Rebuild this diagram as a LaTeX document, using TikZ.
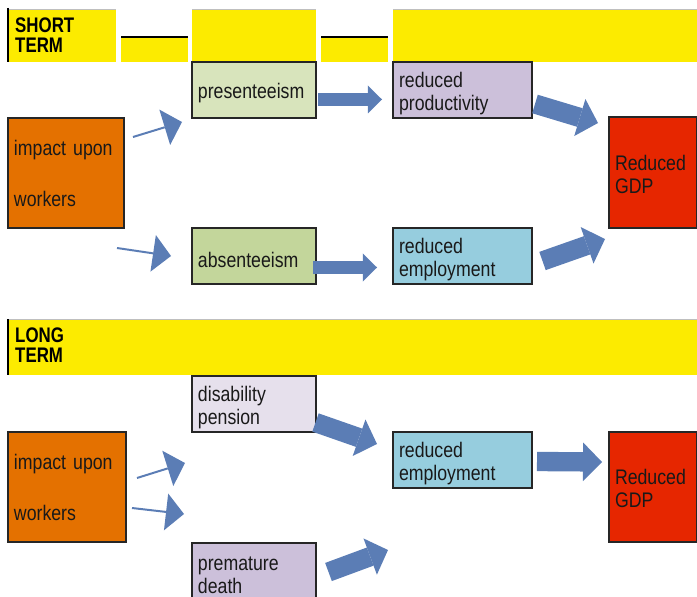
\documentclass[tikz,border=0pt]{standalone}
\usepackage{fontspec}
\setmainfont[FakeStretch=0.84]{Liberation Sans}
\newfontfamily\hdfont[FakeStretch=0.8]{Liberation Sans}
\usetikzlibrary{arrows.meta}
\definecolor{banda}{HTML}{FCEB00}
\definecolor{naranja}{HTML}{E47100}
\definecolor{verde}{HTML}{D8E4BC}
\definecolor{verdeb}{HTML}{C3D69B}
\definecolor{lila}{HTML}{CCC0DA}
\definecolor{lilac}{HTML}{E6E0EC}
\definecolor{celeste}{HTML}{96CDDE}
\definecolor{rojo}{HTML}{E62600}
\definecolor{flecha}{HTML}{5B7DB5}

\begin{document}
\begin{tikzpicture}[x=0.03cm,y=-0.03cm,font=\fontsize{18}{19.5}\selectfont,
        bx/.style={draw=black!85,line width=1pt,inner xsep=0.18cm,inner ysep=0pt,align=left,text=black!90},
        sb/.style={bx,text height=19pt,minimum height=1.68cm},
        hd/.style={font=\hdfont\bfseries\fontsize{18}{17}\selectfont,inner sep=0pt,align=left,anchor=north west},
        fina/.style={flecha,line width=1.7pt,-{Triangle[length=15.4pt,width=31.6pt,line width=0pt]}},
        gorda/.style={flecha,line width=16.5pt,-{Triangle[length=16.2pt,width=33pt,line width=0pt]}},
        media/.style={flecha,line width=10.7pt,-{Triangle[length=12pt,width=23.9pt,line width=0pt]}}]
        \useasboundingbox (0,0) rectangle (697,597);
        \foreach \a/\b in {8/116,192/316,393/697}
          {\fill[banda] (\a,9) rectangle (\b,62); \draw[gray!50,line width=.6pt] (\a,9) -- (\b,9);}
        \foreach \a/\b in {121/188,321/388}
          {\fill[banda] (\a,37) rectangle (\b,62); \draw[line width=1.4pt] (\a,37) -- (\b,37);}
        \fill[banda] (8,319) rectangle (697,375);
        \draw[gray!50,line width=.6pt] (8,319) -- (697,319);
        \draw[line width=1.5pt] (8,8) -- (8,62) (8,319) -- (8,375);
        \node[hd] (st) at (15,18) {SHORT\\TERM};
        \node[hd] (lt) at (15,328) {LONG\\TERM};

        \node[bx,fill=naranja,text width=3.12cm,minimum height=3.3cm] (imp) at (66,173) {impact upon\\[24pt]workers};
        \node[sb,fill=verde,text width=3.36cm] (pre) at (254,90) {presenteeism};
        \node[sb,fill=verdeb,text width=3.36cm] (abs) at (254,256) {absenteeism};
        \node[sb,fill=lila,text width=3.81cm] (rpr) at (462.5,90) {reduced\\productivity};
        \node[sb,fill=celeste,text width=3.81cm] (rem) at (462.5,256) {reduced\\employment};
        \node[bx,fill=rojo,text width=2.28cm,minimum height=3.33cm,text height=16pt] (gdp) at (653,172.5) {Reduced\\GDP};

        \node[bx,fill=naranja,text width=3.18cm,minimum height=3.3cm] (imp2) at (67,487) {impact upon\\[24pt]workers};
        \node[sb,fill=lilac,text width=3.36cm] (dis) at (254,404) {disability\\pension};
        \node[sb,fill=celeste,text width=3.81cm] (rem2) at (462.5,460) {reduced\\employment};
        \node[sb,fill=lila,text width=3.36cm] (dth) at (254,571) {premature\\death};
        \node[bx,fill=rojo,text width=2.28cm,minimum height=3.3cm,text height=16pt] (gdp2) at (653,487) {Reduced\\GDP};

        \coordinate (i1) at (133,137); \coordinate (p1) at (182,122);
        \coordinate (i2) at (117,248); \coordinate (b1) at (171,256);
        \coordinate (p2) at (318,99.5); \coordinate (r1) at (382,99.5);
        \coordinate (b2) at (313,267.5); \coordinate (r2) at (377,267.5);
        \coordinate (r3) at (535,104); \coordinate (g1) at (598,123);
        \coordinate (r4) at (542.5,261); \coordinate (g2) at (605,239);
        \draw[fina] (i1) -- (p1); \draw[fina] (i2) -- (b1);
        \draw[media] (p2) -- (r1); \draw[media] (b2) -- (r2);
        \draw[gorda] (r3) -- (g1); \draw[gorda] (r4) -- (g2);

        \coordinate (i3) at (137,478); \coordinate (u1) at (185,463);
        \coordinate (i4) at (132,508); \coordinate (u2) at (184,514);
        \coordinate (d1) at (315.5,422.5); \coordinate (e1) at (377,444);
        \coordinate (d2) at (328.5,572); \coordinate (e2) at (388,550);
        \coordinate (e3) at (537,461.5); \coordinate (g3) at (602,462);
        \draw[fina] (i3) -- (u1); \draw[fina] (i4) -- (u2);
        \draw[gorda] (d1) -- (e1); \draw[gorda] (d2) -- (e2);
        \draw[gorda] (e3) -- (g3);
      \end{tikzpicture}
\end{document}
